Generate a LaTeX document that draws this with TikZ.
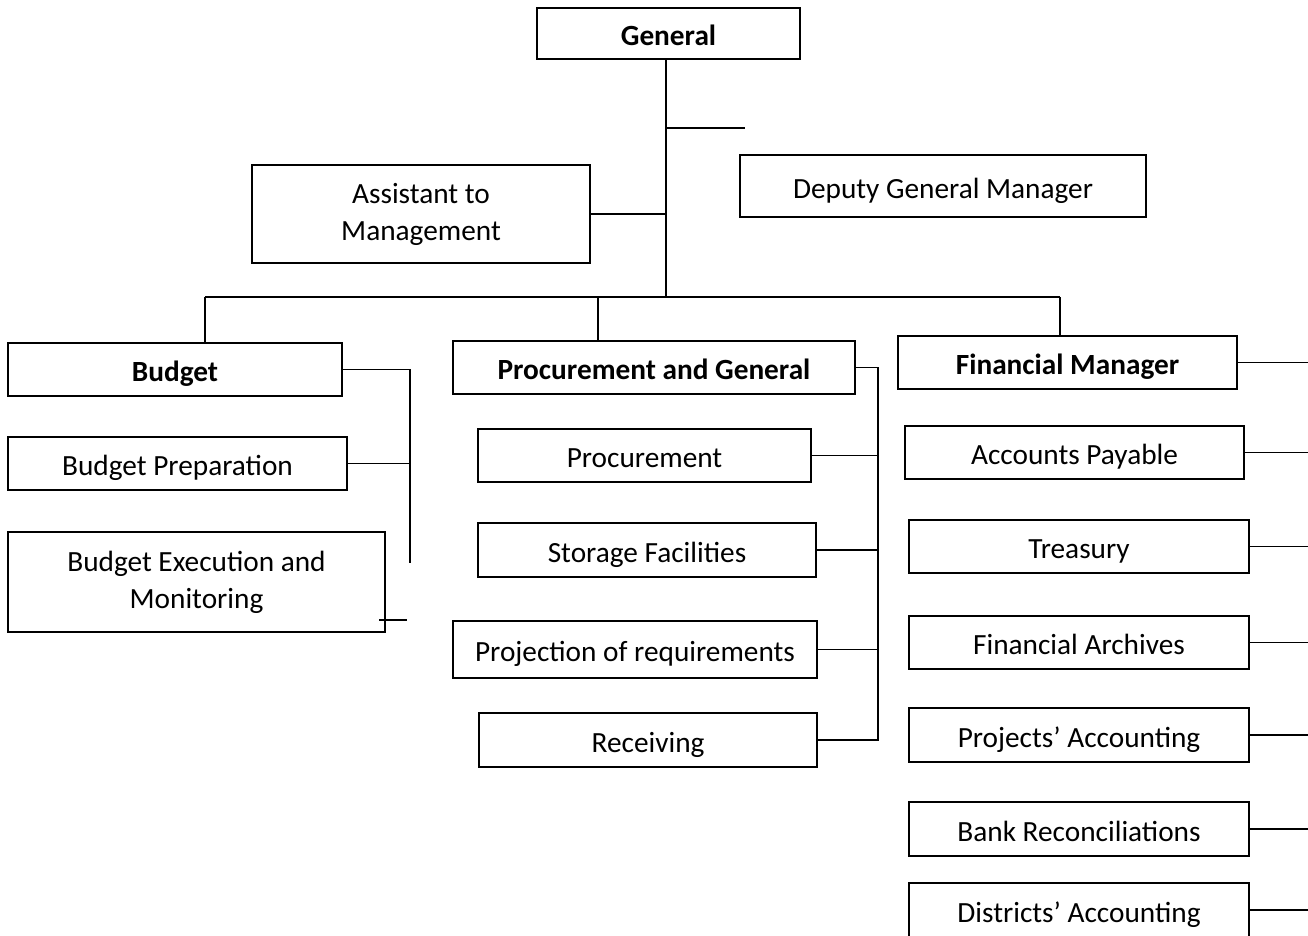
\documentclass[tikz,border=0pt]{standalone}
\usepackage{fontspec}
\setmainfont{Carlito}
\usepackage{tikz}
\usetikzlibrary{calc}
\usetikzlibrary{positioning}

\tikzset{
  box/.style={draw, rectangle, line width=1.2pt, inner sep=0pt, align=center,
    font=\fontsize{29.3}{37}\selectfont},
  unit/.style={box, text height=28pt, text depth=4pt},
  twoline/.style={box},
  head/.style={unit, font=\fontsize{29.3}{37}\selectfont\bfseries},
  link/.style={line width=1.2pt}
}

\begin{document}
\begin{tikzpicture}[x=1pt, y=-1pt]

\useasboundingbox (0,0) rectangle (1308,935);
\clip (0,0) rectangle (1308,935);

% -------------------------------------------------------
% 1. Top of the chart
% -------------------------------------------------------
\node[head, minimum width=263, minimum height=51] (general) at (668.5,33.5) {General};
\node[twoline, minimum width=338, minimum height=98] (assist) at (421,214) {Assistant to\\Management};
\node[unit, minimum width=406, minimum height=62] (deputy) at (943,186) {Deputy General Manager};

\coordinate (hub) at (666,297);
\coordinate (depstub) at (745,128);

\draw[link] (hub |- general.south) -- (hub);
\draw[link] (assist.east) -- (assist.east -| hub);
\draw[link] (depstub -| hub) -- (depstub);

% -------------------------------------------------------
% 2. Bus to the three departments
% -------------------------------------------------------
\coordinate (busL) at (205,297);
\coordinate (busM) at (598,297);
\coordinate (busR) at (1060,297);

\draw[link] (busL) -- (busR);

% -------------------------------------------------------
% 3. Budget
% -------------------------------------------------------
\node[head, minimum width=334, minimum height=53] (budget) at (175,369.5) {Budget};
\node[unit, minimum width=339, minimum height=53] (bprep) at (177.5,463.5) {Budget Preparation};
\node[twoline, minimum width=377, minimum height=100] (bexec) at (196.5,582) {Budget Execution and\\Monitoring};

\coordinate (bB) at (410,563);
\coordinate (tickA) at (379,620);
\coordinate (tickB) at (407,620);

\draw[link] (busL) -- (busL |- budget.north);
\draw[link] (budget.east) -| (bB);
\draw[link] (bprep.east) -- (bprep.east -| bB);
\draw[link] (tickA) -- (tickB);

% -------------------------------------------------------
% 4. Procurement and General
% -------------------------------------------------------
\node[head, minimum width=402, minimum height=53] (procgen) at (654,367.5) {Procurement and General};
\node[unit, minimum width=333, minimum height=53] (procm) at (644.5,455.5) {Procurement};
\node[unit, minimum width=338, minimum height=54] (stor) at (647,550) {Storage Facilities};
\node[unit, minimum width=364, minimum height=57] (proj) at (635,649.5) {Projection of requirements};
\node[unit, minimum width=338, minimum height=54] (recv) at (648,740) {Receiving};

\coordinate (pB) at (878,740);

\draw[link] (busM) -- (busM |- procgen.north);
\draw[link] (procgen.east) -| (pB) -- (recv.east);
\foreach \n in {procm, stor, proj} {
  \draw[link] (\n.east) -- (\n.east -| pB);
}

% -------------------------------------------------------
% 5. Financial Manager
% -------------------------------------------------------
\node[head, minimum width=339, minimum height=53] (fin) at (1067.5,362.5) {Financial Manager};
\node[unit, minimum width=339, minimum height=53] (ap) at (1074.5,452.5) {Accounts Payable};
\node[unit, minimum width=340, minimum height=53] (treas) at (1079,546.5) {Treasury};
\node[unit, minimum width=340, minimum height=53] (arch) at (1079,642.5) {Financial Archives};
\node[unit, minimum width=340, minimum height=54] (projacc) at (1079,735) {Projects’ Accounting};
\node[unit, minimum width=340, minimum height=54] (bank) at (1079,829) {Bank Reconciliations};
\node[unit, minimum width=340, minimum height=54] (dist) at (1079,910) {Districts’ Accounting};

\coordinate (edge) at (1308,0);

\draw[link] (busR) -- (busR |- fin.north);
\foreach \n in {fin, ap, treas, arch, projacc, bank, dist} {
  \draw[link] (\n.east) -- (\n.east -| edge);
}

\end{tikzpicture}
\end{document}
